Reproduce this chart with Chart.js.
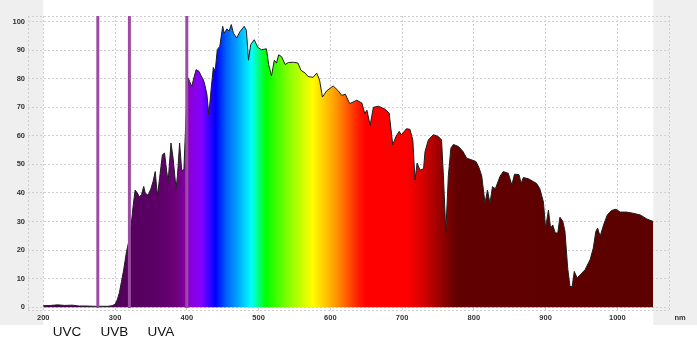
<!DOCTYPE html>
<html>
<head>
<meta charset="utf-8">
<script src="https://cdn.jsdelivr.net/npm/chart.js@4/dist/chart.umd.min.js"></script>
<style>
    body { margin: 0; background: #fff; }
    #wrap { width: 697px; height: 350px; position: relative; }
</style>
</head>
<body>
<div id="wrap"><canvas id="chartSpectrum"></canvas></div>
<script>
// wavelength (nm) and relative intensity (%)
var wavelengths = [
    200, 210, 220, 230, 240, 250, 260, 270, 280, 290, 296, 300, 303, 306, 309, 312, 316, 321, 325, 328,
    331, 334, 337, 340, 342, 346, 350, 353, 356, 359, 362, 366, 369, 372, 374, 378, 381, 385, 387, 390,
    393, 396, 399, 402, 404, 407, 409, 413, 417, 420, 423, 425, 428, 430.8, 433.6, 437, 439.5, 442.5, 446, 450,
    452, 456, 459, 462, 465, 469.5, 474, 480, 483, 486, 489, 494, 499, 504, 511, 514, 518, 522, 525, 528,
    532, 537, 541.5, 548.5, 555, 559, 565, 569, 576, 581, 585, 589, 595, 604, 611, 616, 621, 627, 637, 644,
    648, 651, 655.5, 660, 667, 676, 682, 687, 691.5, 696, 699, 706, 711, 715, 718, 721, 725, 730, 732, 736.6,
    743.5, 750.5, 755, 757.6, 761, 764.5, 768, 771.5, 778.5, 785, 790, 797, 803, 807, 811, 815.6, 819, 822.5, 826, 830,
    836.5, 841, 848, 853, 856.7, 863, 866, 869, 876, 883, 887.6, 892, 897, 900, 904, 907, 910, 913.5, 917, 920,
    924, 927, 930.8, 934, 937, 940, 944, 948, 955, 962, 966.5, 970, 972.5, 976, 980.8, 986, 992, 998, 1004, 1013,
    1022, 1032, 1041, 1050
];
var intensity = [
    0.5, 0.6, 0.8, 0.6, 0.7, 0.4, 0.4, 0.3, 0.3, 0.3, 0.5, 1.0, 2.5, 5, 9, 13, 19.5, 25, 35, 41,
    40, 38.6, 39.5, 42.3, 40, 39.2, 41.5, 44, 47.5, 39, 45, 53.4, 54, 47.5, 44, 57.5, 52, 41.5, 46, 57.5,
    47.5, 48.5, 67.4, 80.3, 79, 77.3, 79.5, 83.2, 82.6, 81, 79.7, 78, 74.6, 67.4, 75.6, 84, 82.6, 90.2, 91.4, 98.4,
    96, 97.5, 96.7, 99, 96, 94.3, 96.5, 98.4, 97, 86.5, 92, 93.7, 91, 90.2, 90.5, 85, 81, 86.5, 85.5, 88.4,
    87.8, 85, 85.7, 85.8, 85.5, 83, 82, 80.8, 80.5, 82, 79.6, 73.6, 75.8, 77.5, 75.8, 74.2, 74.6, 71.3, 72.5, 71.5,
    67.8, 69, 63.7, 70, 70.4, 69.4, 68, 56.9, 59.8, 61.6, 60.3, 62.5, 62.3, 58.5, 44.5, 50.5, 48, 48.5, 54.5, 58.6,
    60.4, 59.8, 58.6, 46, 26.5, 46, 55.7, 57, 56.3, 54.5, 52.2, 51.6, 51, 49, 46, 36.4, 41, 36.4, 42.2, 41.5,
    45.8, 47.5, 46.9, 42.8, 46.6, 46.4, 43.4, 45.4, 45, 44, 43.3, 41.5, 36.8, 27.7, 34, 27.7, 28.8, 26, 26, 31.5,
    30.1, 26.6, 13.7, 7.2, 7.2, 12.5, 10.2, 11.3, 13.1, 16.6, 20.7, 26.5, 27.7, 24.8, 28.8, 32.3, 33.9, 34.3, 33.3, 33.3,
    32.9, 32.3, 30.9, 30
];

// UV band edges and their labels
var bandEdges = [276, 320, 400];
var bandLabels = ['UVC', 'UVB', 'UVA'];
var bandLabelAt = [233, 299, 364];

var xTicks = [200, 300, 400, 500, 600, 700, 800, 900, 1000];
var yTicks = [0, 10, 20, 30, 40, 50, 60, 70, 80, 90, 100];

// colour of the fill along the wavelength
var colourNm = [200, 300, 360, 385, 397, 405, 420, 440, 455, 470, 490, 500, 510, 540, 575, 590, 610, 640, 650, 705, 725, 750, 775, 1050];
var colourHex = ['#470046', '#52005a', '#5c0066', '#6c0078', '#7e00a0', '#8a00d8', '#8400ff', '#0000ff', '#0060ff', '#00a0ff',
    '#00ffff', '#00ff80', '#00ff00', '#80ff00', '#ffff00', '#ffd000', '#ff9000', '#ff1800', '#ff0000', '#ff0000',
    '#e00000', '#a00000', '#620000', '#5c0000'];

var X_MIN = 178.7, X_MAX = 1072, Y_MIN = -1, Y_MAX = 102;

function spectrumPoints() {
    var pts = [];
    for (var i = 0; i < wavelengths.length; i++) {
        pts.push({x: wavelengths[i], y: intensity[i]});
    }
    return pts;
}

function spectrumGradient(context) {
    var chart = context.chart;
    if (!chart.chartArea) return '#5c0000';
    var xs = chart.scales.x;
    var x0 = xs.getPixelForValue(200);
    var x1 = xs.getPixelForValue(1050);
    var g = chart.ctx.createLinearGradient(x0, 0, x1, 0);
    for (var i = 0; i < colourNm.length; i++) {
        g.addColorStop((colourNm[i] - 200) / 850, colourHex[i]);
    }
    return g;
}

var datasets = [{
    data: spectrumPoints(),
    borderColor: '#1e1e1e',
    borderWidth: 1,
    backgroundColor: spectrumGradient,
    fill: 'origin',
    pointRadius: 0,
    tension: 0,
    order: 2
}];
for (var b = 0; b < bandEdges.length; b++) {
    datasets.push({
        data: [{x: bandEdges[b], y: -0.3}, {x: bandEdges[b], y: Y_MAX}],
        borderColor: '#9d4ca3',
        borderWidth: 3,
        pointRadius: 0,
        fill: false,
        order: 1
    });
}

var decorPlugin = {
    id: 'decor',
    beforeDraw: function(chart) {
        var c = chart.ctx, xs = chart.scales.x, a = chart.chartArea;
        var l = xs.getPixelForValue(200), r = xs.getPixelForValue(1050);
        c.save();
        c.fillStyle = '#efefef';
        c.fillRect(0, 0, l, a.bottom + 15);
        c.fillRect(r, 0, chart.width - r, a.bottom + 15);
        c.restore();
    },
    afterDraw: function(chart) {
        var c = chart.ctx, xs = chart.scales.x, a = chart.chartArea;
        c.save();
        c.fillStyle = '#333';
        c.font = 'bold 7.5px "Liberation Sans"';
        c.textAlign = 'center';
        c.textBaseline = 'middle';
        c.fillText('nm', a.right + 11, a.bottom + 7.5);
        c.fillStyle = '#111';
        c.font = '13.5px "Liberation Sans"';
        for (var i = 0; i < bandLabels.length; i++) {
            c.fillText(bandLabels[i], xs.getPixelForValue(bandLabelAt[i]), a.bottom + 22);
        }
        c.restore();
    }
};

function tickFont() {
    return {family: 'Liberation Sans', size: 7.5, weight: 'bold'};
}

new Chart(document.getElementById('chartSpectrum'), {
    type: 'line',
    data: {datasets: datasets},
    plugins: [decorPlugin],
    options: {
        responsive: true,
        maintainAspectRatio: false,
        animation: false,
        layout: {padding: {top: 16, right: 28, left: 0, bottom: 0}},
        plugins: {legend: {display: false}, tooltip: {enabled: false}},
        scales: {
            x: {
                type: 'linear',
                min: X_MIN,
                max: X_MAX,
                afterBuildTicks: function(scale) {
                    var t = [{value: X_MIN}];
                    xTicks.forEach(function(v) { t.push({value: v}); });
                    t.push({value: X_MAX});
                    scale.ticks = t;
                },
                afterFit: function(scale) { scale.height = 40; },
                grid: {color: '#cfcfcf', drawTicks: false, lineWidth: 1},
                border: {display: false, dash: [2, 2]},
                ticks: {
                    font: tickFont(),
                    color: '#333',
                    padding: 3,
                    maxRotation: 0,
                    autoSkip: false,
                    callback: function(v) { return xTicks.indexOf(v) >= 0 ? String(v) : ''; }
                }
            },
            y: {
                min: Y_MIN,
                max: Y_MAX,
                afterBuildTicks: function(scale) {
                    var t = [{value: Y_MIN}];
                    yTicks.forEach(function(v) { t.push({value: v}); });
                    t.push({value: Y_MAX});
                    scale.ticks = t;
                },
                afterFit: function(scale) { scale.width = 28; },
                grid: {color: '#cfcfcf', drawTicks: false, lineWidth: 1},
                border: {display: false, dash: [2, 2]},
                ticks: {
                    font: tickFont(),
                    color: '#333',
                    padding: 3,
                    autoSkip: false,
                    callback: function(v) { return yTicks.indexOf(v) >= 0 ? String(v) : ''; }
                }
            }
        }
    }
});
</script>
</body>
</html>
